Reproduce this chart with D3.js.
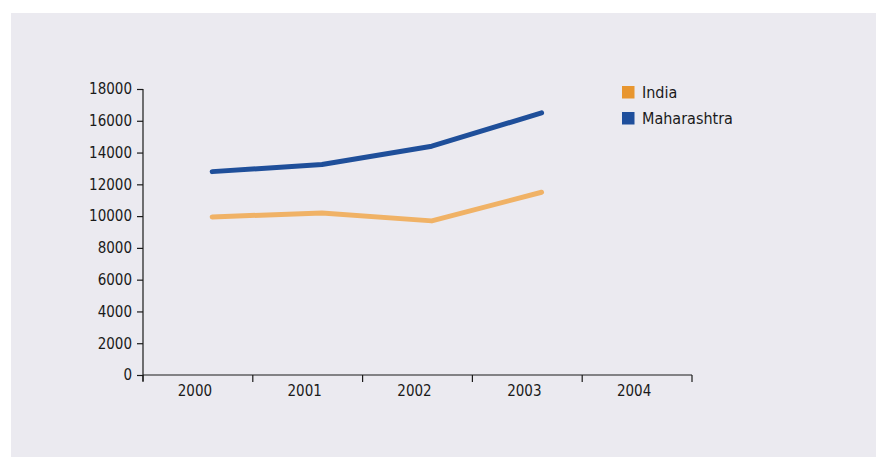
<!DOCTYPE html>
<html>
<head>
<meta charset="utf-8">
<script src="https://cdn.jsdelivr.net/npm/d3@7"></script>
<style>
  html, body { margin: 0; padding: 0; background: #ffffff; }
  svg { display: block; }
  text { font-family: "Liberation Sans Narrow", "DejaVu Sans Condensed", "Liberation Sans", sans-serif; fill: #1a1a1a; }
</style>
</head>
<body>
<svg id="chart" width="876" height="457"></svg>
<script>
// Years on the horizontal axis
const years = ["2000", "2001", "2002", "2003", "2004"];
// Series values (per year, 2004 not reported)
const india = [9950, 10200, 9700, 11500];
const maharashtra = [12800, 13250, 14400, 16500];
// Vertical axis ticks
const yTicks = [0, 2000, 4000, 6000, 8000, 10000, 12000, 14000, 16000, 18000];

const seriesNames = ["India", "Maharashtra"];
const lineColors = { "India": "#F0B266", "Maharashtra": "#1F4F9A" };
const keyColors = { "India": "#E8962F", "Maharashtra": "#1F4F9C" };

const svg = d3.select("#chart");

// Panel background
svg.append("rect")
  .attr("x", 11).attr("y", 13)
  .attr("width", 876 - 11).attr("height", 457 - 13)
  .attr("fill", "#EBEAF0");

const plotLeft = 143, plotRight = 692, plotTop = 89, plotBottom = 375;

const x = d3.scaleBand().domain(years).range([plotLeft, plotRight]).padding(0);
const y = d3.scaleLinear().domain([0, 18000]).range([plotBottom, plotTop]);

// Y axis
const yAxis = d3.axisLeft(y).tickValues(yTicks).tickSize(6).tickPadding(5).tickFormat(d3.format("d"));
const gy = svg.append("g").attr("transform", `translate(${plotLeft},0)`).call(yAxis);
gy.attr("font-family", null).attr("font-size", null);
gy.select(".domain").attr("d", `M0,${plotTop}V${plotBottom + 6}`)
  .attr("stroke", "#1a1a1a").attr("stroke-width", 1.2);
gy.selectAll(".tick line").attr("stroke", "#1a1a1a").attr("stroke-width", 1.2);
gy.selectAll(".tick text").attr("font-size", 15).attr("fill", "#1a1a1a");

// X axis with tick marks at band boundaries
const gx = svg.append("g").attr("transform", `translate(0,${plotBottom})`);
gx.append("line").attr("x1", plotLeft).attr("x2", plotRight).attr("y1", 0).attr("y2", 0)
  .attr("stroke", "#1a1a1a").attr("stroke-width", 1.2);
const bounds = years.map(yr => x(yr)).concat([plotRight]);
gx.selectAll("line.tick").data(bounds).join("line").attr("class", "tick")
  .attr("x1", d => d).attr("x2", d => d).attr("y1", 0).attr("y2", 7)
  .attr("stroke", "#1a1a1a").attr("stroke-width", 1.2);
gx.selectAll("text").data(years).join("text")
  .attr("x", d => x(d) + x.bandwidth() / 2 - 3)
  .attr("y", 21)
  .attr("text-anchor", "middle")
  .attr("font-size", 15)
  .text(d => d);

// Lines: points sit at a fixed offset inside each year band
const px = yr => x(yr) + x.bandwidth() * 0.63;
const line = d3.line().x((d, i) => px(years[i])).y(d => y(d));

const data = { "India": india, "Maharashtra": maharashtra };
seriesNames.forEach(name => {
  svg.append("path")
    .datum(data[name])
    .attr("d", line)
    .attr("fill", "none")
    .attr("stroke", lineColors[name])
    .attr("stroke-width", 5)
    .attr("stroke-linecap", "round")
    .attr("stroke-linejoin", "round");
});

// Legend
const legend = svg.append("g").attr("transform", "translate(622,86)");
seriesNames.forEach((name, i) => {
  const g = legend.append("g").attr("transform", `translate(0,${i * 26})`);
  g.append("rect").attr("width", 12.5).attr("height", 12.5).attr("fill", keyColors[name]);
  g.append("text").attr("x", 20).attr("y", 11.5).attr("font-size", 16).text(name);
});
</script>
</body>
</html>
